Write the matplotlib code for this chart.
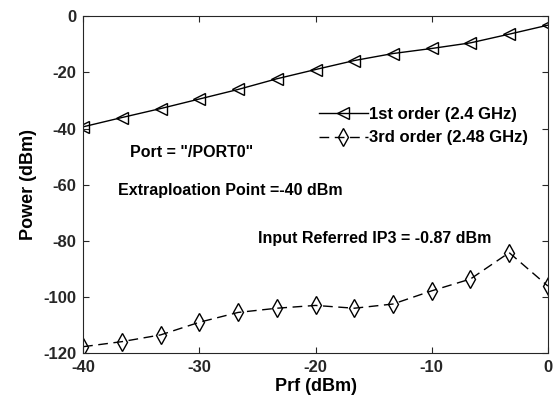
import numpy as np
import matplotlib
matplotlib.use("Agg")
import matplotlib.pyplot as plt

plt.rcParams['font.family'] = ['Liberation Sans', 'DejaVu Sans']
plt.rcParams['font.weight'] = 'bold'
plt.rcParams['axes.unicode_minus'] = False

# input power sweep (dBm)
prf = np.linspace(-40, 0, 13)

# fundamental and 3rd-order output power (dBm)
first_order = [-39.4, -36.1, -32.9, -29.5, -26.1, -22.3, -19.0,
               -15.8, -13.3, -11.5, -9.5, -6.4, -3.2]
third_order = [-117.7, -115.9, -113.5, -109.0, -105.5, -104.0, -103.0,
               -104.0, -102.5, -97.8, -93.6, -84.2, -96.1]

fig = plt.figure(figsize=(5.54, 4.15), dpi=100)
ax = fig.add_axes([0.150, 0.149, 0.839, 0.812])

ax.plot(prf, first_order, color='black', lw=1.0, marker='<',
        markersize=8, markerfacecolor='none', markeredgewidth=1.0,
        label='1st order (2.4 GHz)')
ax.plot(prf, third_order, color='black', lw=1.0, marker='d',
        markersize=9, markerfacecolor='none', markeredgewidth=1.0,
        dashes=(7, 4), label='3rd order (2.48 GHz)')

ax.set_xlim(-40, 0)
ax.set_ylim(-120, 0)
ax.set_xticks([-40, -30, -20, -10, 0])
ax.set_yticks([-120, -100, -80, -60, -40, -20, 0])
ax.tick_params(direction='in', top=True, right=True, labelsize=12,
               length=4, width=0.8, colors='#262626', pad=5)
for lab in ax.get_xticklabels() + ax.get_yticklabels():
    lab.set_fontweight('bold')
for sp in ax.spines.values():
    sp.set_color('#262626')
    sp.set_linewidth(0.8)

ax.set_xlabel('Prf (dBm)', fontsize=13, fontweight='bold', labelpad=2)
ax.set_ylabel('Power (dBm)', fontsize=13, fontweight='bold', labelpad=4)

ax.text(-35.96, -48.4, 'Port = "/PORT0"', fontsize=11.5,
        fontweight='bold', va='center', ha='left')
ax.text(-37.0, -61.9, 'Extraploation Point =-40 dBm', fontsize=11.5,
        fontweight='bold', va='center', ha='left')
ax.text(-24.95, -79.0, 'Input Referred IP3 = -0.87 dBm', fontsize=11.5,
        fontweight='bold', va='center', ha='left')

ax.legend(loc='upper right', bbox_to_anchor=(0.972, 0.75), frameon=False,
          handlelength=2.9, handletextpad=0.1,
          borderaxespad=0, labelspacing=0.5,
          prop={'weight': 'bold', 'size': 12})

fig.savefig('out.png', dpi=100)
